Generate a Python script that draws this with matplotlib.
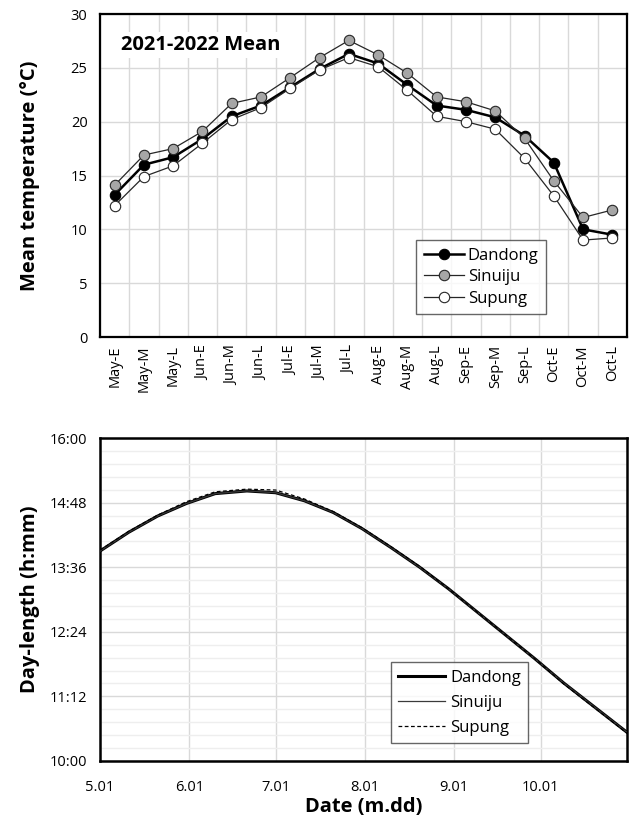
import matplotlib
matplotlib.use("Agg")
import matplotlib.pyplot as plt
import numpy as np
import pandas as pd

plt.rcParams['font.family'] = ['Open Sans', 'DejaVu Sans']

# ---------------- Top chart data ----------------
periods = ["May-E", "May-M", "May-L", "Jun-E", "Jun-M", "Jun-L", "Jul-E", "Jul-M", "Jul-L",
           "Aug-E", "Aug-M", "Aug-L", "Sep-E", "Sep-M", "Sep-L", "Oct-E", "Oct-M", "Oct-L"]
temp_dandong = [13.2, 16.0, 16.7, 18.4, 20.5, 21.5, 23.2, 24.9, 26.3,
                25.4, 23.4, 21.5, 21.1, 20.4, 18.7, 16.2, 10.0, 9.5]
temp_sinuiju = [14.1, 16.9, 17.5, 19.1, 21.7, 22.3, 24.1, 25.95, 27.55,
                26.2, 24.5, 22.3, 21.85, 21.0, 18.45, 14.5, 11.1, 11.8]
temp_supung = [12.2, 14.9, 15.9, 18.0, 20.2, 21.3, 23.1, 24.8, 25.95,
               25.1, 22.9, 20.5, 20.0, 19.3, 16.6, 13.1, 9.0, 9.2]

# ---------------- Bottom chart data ----------------
dates = ["05-01", "05-11", "05-21", "05-31", "06-10", "06-21", "07-01", "07-11", "07-21", "07-31",
         "08-10", "08-20", "08-30", "09-09", "09-19", "09-29", "10-09", "10-19", "10-29", "10-31"]
dl_dandong = ["13:54", "14:15", "14:33", "14:47", "14:58", "15:01", "14:59", "14:50", "14:37", "14:19",
              "13:58", "13:36", "13:12", "12:46", "12:20", "11:54", "11:27", "11:02", "10:37", "10:32"]
dl_sinuiju = ["13:54", "14:15", "14:33", "14:47", "14:58", "15:01", "14:59", "14:50", "14:37", "14:19",
              "13:58", "13:36", "13:12", "12:46", "12:20", "11:54", "11:27", "11:02", "10:37", "10:32"]
dl_supung = ["13:55", "14:16", "14:34", "14:49", "15:00", "15:03", "15:02", "14:52", "14:38", "14:20",
             "13:59", "13:37", "13:12", "12:46", "12:20", "11:54", "11:26", "11:01", "10:36", "10:31"]
month_ticks = ["05-01", "06-01", "07-01", "08-01", "09-01", "10-01"]
month_labels = ["5.01", "6.01", "7.01", "8.01", "9.01", "10.01"]
x_end = "10-31"
y_ticks = ["10:00", "11:12", "12:24", "13:36", "14:48", "16:00"]


def to_day(s):
    return (pd.Timestamp("2022-" + s) - pd.Timestamp("2022-05-01")).days


def to_min(s):
    h, m = s.split(":")
    return int(h) * 60 + int(m)


W, H = 632, 826
fig = plt.figure(figsize=(W / 100, H / 100), dpi=100)

grid_c = "#d9d9d9"

# ================= TOP =================
ax1 = fig.add_axes([100 / W, (H - 337) / H, 527 / W, 323 / H])
x = np.arange(len(periods))
ax1.plot(x, temp_dandong, '-o', color='black', lw=1.8, ms=7.5, mfc='black', mec='black',
         mew=0.8, label='Dandong', zorder=3)
ax1.plot(x, temp_sinuiju, '-o', color='#262626', lw=0.9, ms=7.5, mfc='#a6a6a6', mec='#262626',
         mew=0.8, label='Sinuiju', zorder=4)
ax1.plot(x, temp_supung, '-o', color='#262626', lw=0.9, ms=7.5, mfc='white', mec='#262626',
         mew=0.8, label='Supung', zorder=5)
ax1.set_xlim(-0.5, len(periods) - 0.5)
ax1.set_ylim(0, 30)
ax1.set_yticks(np.arange(0, 31, 5))
ax1.set_xticks(x)
ax1.set_xticklabels(periods, rotation=90, fontsize=10.5)
ax1.set_xticks(np.arange(-0.5, len(periods), 1.0), minor=True)
ax1.grid(False)
ax1.yaxis.grid(True, which='major', color=grid_c, lw=1.0, zorder=0)
ax1.xaxis.grid(True, which='minor', color=grid_c, lw=1.0, zorder=0)
ax1.tick_params(axis='both', which='both', length=0, labelsize=10.5)
ax1.tick_params(axis='x', pad=6)
ax1.tick_params(axis='y', pad=9)
for sp in ax1.spines.values():
    sp.set_linewidth(1.6)
    sp.set_color('black')
ax1.set_ylabel("Mean temperature (°C)", fontsize=14.5, fontweight='bold')
ax1.yaxis.set_label_coords(-0.113, 0.5)
ax1.text(0.04, 0.905, "2021-2022 Mean", transform=ax1.transAxes, fontsize=14.5,
         fontweight='bold', ha='left', va='center',
         bbox=dict(facecolor='white', edgecolor='none', pad=2), zorder=6)
leg1 = ax1.legend(loc='upper left', bbox_to_anchor=(0.600, 0.300), borderaxespad=0,
                  fontsize=12, frameon=True, fancybox=False, edgecolor='#404040',
                  handlelength=2.4, handletextpad=0.25, labelspacing=0.33, borderpad=0.45)
leg1.get_frame().set_linewidth(1.0)
leg1.set_zorder(7)

# ================= BOTTOM =================
ax2 = fig.add_axes([100 / W, (H - 761) / H, 527 / W, 323 / H])
xd = [to_day(d) for d in dates]
ax2.plot(xd, [to_min(v) for v in dl_dandong], color='black', lw=2.2, label='Dandong', zorder=3)
ax2.plot(xd, [to_min(v) for v in dl_sinuiju], color='#3a3a3a', lw=0.9, label='Sinuiju', zorder=4)
ax2.plot(xd, [to_min(v) for v in dl_supung], color='black', lw=0.9, ls=(0, (3, 2)),
         label='Supung', zorder=5)
ax2.set_xlim(0, to_day(x_end))
yt = [to_min(v) for v in y_ticks]
ax2.set_ylim(yt[0], yt[-1])
ax2.set_xticks([to_day(d) for d in month_ticks])
ax2.set_xticklabels(month_labels)
ax2.set_yticks(yt)
ax2.set_yticklabels(y_ticks)
minor_step = (yt[1] - yt[0]) / 5
ax2.set_yticks([yt[0] + k * minor_step for k in range(int(round((yt[-1] - yt[0]) / minor_step)) + 1)],
               minor=True)
ax2.grid(False)
ax2.yaxis.grid(True, which='minor', color='#eeeeee', lw=1.0, zorder=0)
ax2.yaxis.grid(True, which='major', color=grid_c, lw=1.0, zorder=0)
ax2.xaxis.grid(True, which='major', color=grid_c, lw=1.0, zorder=0)
ax2.tick_params(axis='both', which='both', length=0, labelsize=10.5)
ax2.tick_params(axis='x', pad=14)
ax2.tick_params(axis='y', pad=9)
for sp in ax2.spines.values():
    sp.set_linewidth(1.8)
    sp.set_color('black')
ax2.set_ylabel("Day-length (h:mm)", fontsize=14.5, fontweight='bold')
ax2.yaxis.set_label_coords(-0.113, 0.5)
ax2.set_xlabel("Date (m.dd)", fontsize=14.5, fontweight='bold')
ax2.xaxis.set_label_coords(0.5, -0.113)
leg2 = ax2.legend(loc='upper left', bbox_to_anchor=(0.552, 0.3065), borderaxespad=0,
                  fontsize=12, frameon=True, fancybox=False, edgecolor='#404040',
                  handlelength=2.8, handletextpad=0.3, labelspacing=0.55, borderpad=0.45)
leg2.get_frame().set_linewidth(1.0)

fig.savefig("out.png", dpi=100)
